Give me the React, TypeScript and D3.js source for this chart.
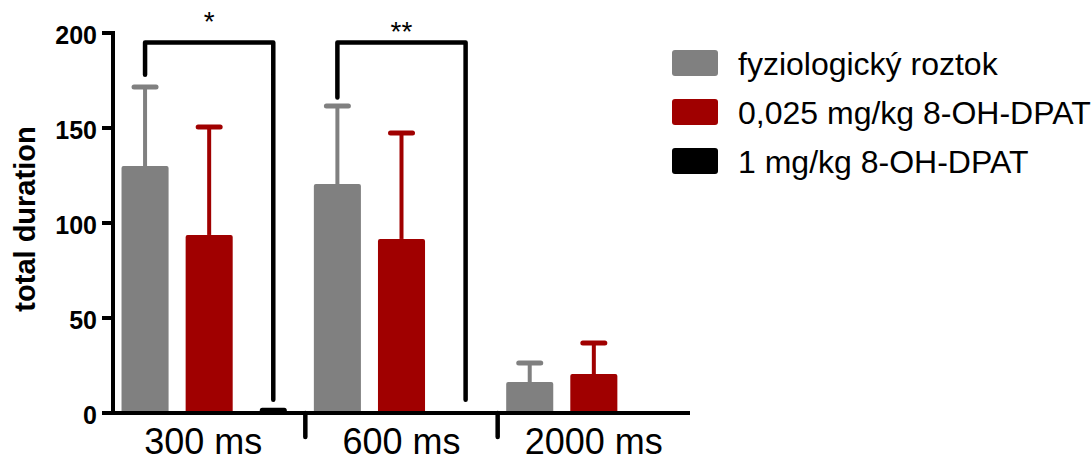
import React from 'react';
import * as d3 from 'd3';

const categories = ['300 ms', '600 ms', '2000 ms'];
const seriesNames = ['fyziologický roztok', '0,025 mg/kg 8-OH-DPAT', '1 mg/kg 8-OH-DPAT'];
const seriesColors = ['#808080', '#a00000', '#000000'];

// mean values per series, one per category
const salineMeans = [130, 120.5, 16.3];
const lowDoseMeans = [93.7, 91.6, 20.5];
const highDoseMeans = [1, 0, 0];

// upper error (SEM) per series
const salineErr = [41.6, 41.1, 10];
const lowDoseErr = [56.8, 55.8, 16.3];
const highDoseErr = [0.4, 0, 0];

const yTicks = [0, 50, 100, 150, 200];

// significance brackets: group, label, top value, left end value, right end value
const sigGroups = ['300 ms', '600 ms'];
const sigLabels = ['*', '**'];
const sigTop = [195, 195];
const sigLeftEnd = [178, 166];
const sigRightEnd = [7, 7];

const FONT = '"Liberation Sans", Arial, sans-serif';

export default function App() {
  const width = 1091;
  const height = 461;
  const left = 113;
  const right = 690;
  const top = 33;
  const bottom = 413;

  const x = d3.scaleBand().domain(categories).range([left, right]).padding(0);
  const xs = d3
    .scaleBand()
    .domain(seriesNames)
    .range([0, x.bandwidth()])
    .paddingInner(0.266)
    .paddingOuter(0.133);
  const y = d3.scaleLinear().domain([0, 200]).range([bottom, top]);

  const means = [salineMeans, lowDoseMeans, highDoseMeans];
  const errs = [salineErr, lowDoseErr, highDoseErr];

  const bars = [];
  categories.forEach((cat, ci) => {
    seriesNames.forEach((s, si) => {
      const v = means[si][ci];
      const e = errs[si][ci];
      if (v <= 0) return;
      const bx = x(cat)! + xs(s)!;
      const bw = xs.bandwidth();
      const cx = bx + bw / 2;
      const col = seriesColors[si];
      bars.push(
        <g key={cat + s}>
          {e > 0 && (
            <>
              <line x1={cx} x2={cx} y1={y(v)} y2={y(v + e)} stroke={col} strokeWidth={4} />
              <line
                x1={cx - 11}
                x2={cx + 11}
                y1={y(v + e)}
                y2={y(v + e)}
                stroke={col}
                strokeWidth={5}
                strokeLinecap="round"
              />
            </>
          )}
          <rect
            x={bx}
            y={y(v)}
            width={bw}
            height={Math.max(1.5, bottom - y(v))}
            fill={col}
            rx={2}
          />
        </g>
      );
    });
  });

  const brackets = sigGroups.map((g, i) => {
    const x1 = x(g)! + xs(seriesNames[0])! + xs.bandwidth() / 2;
    const x2 = x(g)! + xs(seriesNames[2])! + xs.bandwidth() / 2;
    const path = `M${x1},${y(sigLeftEnd[i])}V${y(sigTop[i])}H${x2}V${y(sigRightEnd[i])}`;
    return (
      <g key={g}>
        <path
          d={path}
          fill="none"
          stroke="#000"
          strokeWidth={4.5}
          strokeLinejoin="round"
          strokeLinecap="round"
        />
        <text
          x={(x1 + x2) / 2}
          y={i === 0 ? 31 : 41}
          textAnchor="middle"
          fontSize={28}
          fontFamily={FONT}
        >
          {sigLabels[i]}
        </text>
      </g>
    );
  });

  return (
    <svg
      width={width}
      height={height}
      style={{ position: 'absolute', left: 0, top: 0, display: 'block', background: '#fff' }}
    >
      {bars}
      {brackets}

      {/* y axis */}
      <line x1={left} x2={left} y1={top - 2} y2={bottom} stroke="#000" strokeWidth={4} />
      {yTicks.map(t => (
        <g key={t}>
          <line x1={102} x2={left} y1={y(t)} y2={y(t)} stroke="#000" strokeWidth={4} />
          <text
            x={97}
            y={y(t) + 11}
            textAnchor="end"
            fontSize={25}
            fontWeight="bold"
            fontFamily={FONT}
          >
            {t}
          </text>
        </g>
      ))}
      <text
        transform={`translate(35, 219) rotate(-90)`}
        textAnchor="middle"
        fontSize={29}
        fontWeight="bold"
        fontFamily={FONT}
      >
        total duration
      </text>

      {/* x axis */}
      <line x1={102} x2={right} y1={bottom} y2={bottom} stroke="#000" strokeWidth={4} />
      {categories.slice(1).map(c => (
        <line
          key={c}
          x1={x(c)}
          x2={x(c)}
          y1={bottom}
          y2={437}
          stroke="#000"
          strokeWidth={4.5}
          strokeLinecap="round"
        />
      ))}
      {categories.map(c => (
        <text
          key={c}
          x={x(c)! + x.bandwidth() / 2 - (c === '300 ms' ? 6 : 0)}
          y={454}
          textAnchor="middle"
          fontSize={36}
          fontFamily={FONT}
        >
          {c}
        </text>
      ))}

      {/* legend */}
      {seriesNames.map((s, i) => (
        <g key={s} transform={`translate(672, ${50 + i * 49})`}>
          <rect width={46} height={26} rx={3} fill={seriesColors[i]} />
          <text x={66} y={25} fontSize={32} fontFamily={FONT}>
            {s}
          </text>
        </g>
      ))}
    </svg>
  );
}
